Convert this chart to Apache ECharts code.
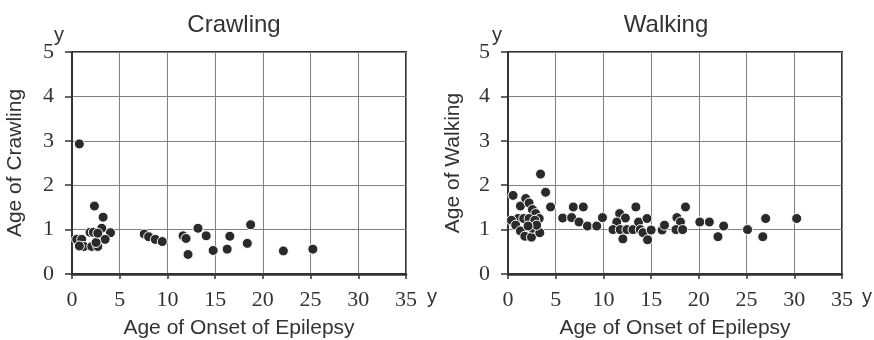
<!DOCTYPE html>
<html><head><meta charset="utf-8">
<script src="https://cdn.jsdelivr.net/npm/echarts@6/dist/echarts.min.js"></script>
<style>html,body{margin:0;padding:0;background:#fff}#c{width:874px;height:340px}</style>
</head><body><div id="c"></div>
<script>
const xTicks = [0,5,10,15,20,25,30,35];
const yTicks = [0,1,2,3,4,5];
const crawlX = [0.77,2.35,3.26,3.12,4.03,3.47,0.49,1.02,1.26,0.77,2.07,2.70,2.52,1.89,2.24,2.70,7.57,8.03,8.73,9.46,11.64,11.95,13.2,14.06,12.16,14.79,16.26,16.54,18.37,18.72,22.15,25.24];
const crawlY = [2.93,1.53,1.28,1.03,0.93,0.78,0.78,0.78,0.62,0.63,0.62,0.62,0.71,0.94,0.94,0.92,0.90,0.84,0.78,0.73,0.86,0.80,1.03,0.86,0.44,0.53,0.56,0.85,0.69,1.11,0.52,0.56];
const walkX = [3.41,3.94,4.46,0.53,1.3,1.86,2.21,2.56,2.9,3.27,1.05,0.36,1.65,2.21,2.81,0.81,1.3,1.76,2.46,2.56,3.33,3.0,2.1,5.73,6.84,7.89,6.67,7.44,8.32,9.3,9.9,11.7,12.3,11.4,11.0,11.76,12.04,12.46,13.1,13.4,13.68,13.86,14.57,14.57,14.15,15.0,14.63,16.15,16.4,17.7,18.07,17.6,18.3,18.6,20.1,21.1,22.6,22.0,25.1,26.7,27.0,30.25];
const walkY = [2.25,1.84,1.51,1.77,1.53,1.70,1.60,1.45,1.36,1.25,1.25,1.21,1.25,1.25,1.21,1.10,0.97,0.85,0.83,1.03,0.93,1.10,1.08,1.26,1.51,1.51,1.27,1.17,1.08,1.08,1.27,1.36,1.26,1.17,1.0,1.0,0.79,1.0,1.0,1.51,1.17,1.0,1.25,0.77,0.93,0.99,0.77,0.99,1.10,1.27,1.17,1.0,1.0,1.51,1.17,1.17,1.08,0.84,1.0,0.84,1.25,1.25];
const titles = ['Crawling','Walking'];
const yNames = ['Age of Crawling','Age of Walking'];
const xName = 'Age of Onset of Epilepsy';
const unit = 'y';

const serif = 'Liberation Serif';
const sans = 'Liberation Sans';
function zip(a,b){return a.map((v,i)=>[v,b[i]]);}
function xAxisOpt(gi){return {gridIndex:gi,type:'value',min:xTicks[0],max:xTicks[xTicks.length-1],interval:xTicks[1]-xTicks[0],
  name:xName,nameLocation:'middle',nameGap:44,nameTextStyle:{fontFamily:sans,fontSize:21,color:'#333'},
  axisLine:{show:true,lineStyle:{color:'#333',width:2.5}},
  axisTick:{show:true,inside:false,length:5,lineStyle:{color:'#333',width:1.5}},
  axisLabel:{fontFamily:serif,fontSize:22,color:'#333',margin:15},
  splitLine:{show:true,lineStyle:{color:'#808080',width:1}}};}
function yAxisOpt(gi){return {gridIndex:gi,type:'value',min:yTicks[0],max:yTicks[yTicks.length-1],interval:yTicks[1]-yTicks[0],
  name:yNames[gi],nameLocation:'middle',nameGap:gi===0?46:44,nameTextStyle:{fontFamily:sans,fontSize:21,color:'#333'},
  axisLine:{show:true,lineStyle:{color:'#333',width:2}},
  axisTick:{show:true,inside:false,length:7,lineStyle:{color:'#333',width:1.5}},
  axisLabel:{fontFamily:serif,fontSize:22,color:'#333',margin:18},
  splitLine:{show:true,lineStyle:{color:'#808080',width:1}}};}
const sym = {symbol:'circle',symbolSize:10,itemStyle:{color:'#2a2a2a',borderColor:'#fff',borderWidth:1,opacity:1}};
const chart = echarts.init(document.getElementById('c'),null,{renderer:'canvas'});
chart.setOption({
  backgroundColor:'#fff',
  animation:false,
  title:[
    {text:titles[0],left:229,top:8,textAlign:'center',textStyle:{fontFamily:sans,fontSize:24,fontWeight:'normal',color:'#333'}},
    {text:titles[1],left:661,top:8,textAlign:'center',textStyle:{fontFamily:sans,fontSize:24,fontWeight:'normal',color:'#333'}}
  ],
  grid:[
    {left:72,right:468,top:52,bottom:66,containLabel:false,outerBoundsMode:'none',show:true,borderColor:'#333',borderWidth:2,backgroundColor:'transparent'},
    {left:508,right:32,top:52,bottom:66,containLabel:false,outerBoundsMode:'none',show:true,borderColor:'#333',borderWidth:2,backgroundColor:'transparent'}
  ],
  xAxis:[xAxisOpt(0),xAxisOpt(1)],
  yAxis:[yAxisOpt(0),yAxisOpt(1)],
  series:[
    Object.assign({type:'scatter',xAxisIndex:0,yAxisIndex:0,data:zip(crawlX,crawlY)},sym),
    Object.assign({type:'scatter',xAxisIndex:1,yAxisIndex:1,data:zip(walkX,walkY)},sym)
  ],
  graphic:[
    {type:'text',left:54,top:25,style:{text:unit,font:'20px "Liberation Sans"',fill:'#333'}},
    {type:'text',left:492,top:25,style:{text:unit,font:'20px "Liberation Sans"',fill:'#333'}},
    {type:'text',left:427,top:287,style:{text:unit,font:'20px "Liberation Sans"',fill:'#333'}},
    {type:'text',left:862,top:287,style:{text:unit,font:'20px "Liberation Sans"',fill:'#333'}}
  ]
});
</script></body></html>
